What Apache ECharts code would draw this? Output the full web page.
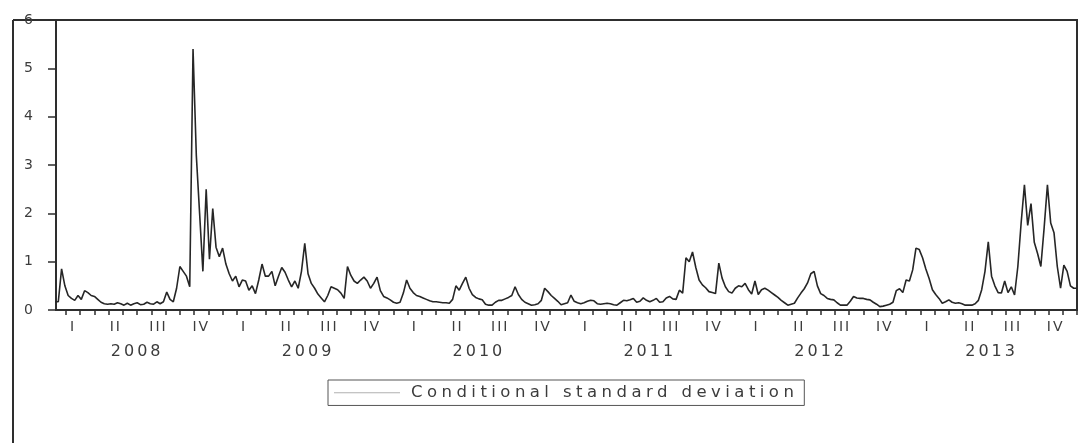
<!DOCTYPE html>
<html>
<head>
<meta charset="utf-8">
<script src="https://cdn.jsdelivr.net/npm/echarts@6/dist/echarts.min.js"></script>
<style>
html,body{margin:0;padding:0;background:#fff;}
#chart{width:1080px;height:443px;}
</style>
</head>
<body>
<div id="chart"></div>
<script>
// ---- data (weekly readings, week-ending dates) ----
const years = ['2008', '2009', '2010', '2011', '2012', '2013'];
const quarters = ['I', 'II', 'III', 'IV'];
const seriesName = 'Conditional standard deviation';

const vol2008 = [0.17,0.17,0.85,0.5,0.3,0.24,0.2,0.3,0.22,0.4, 0.36,0.3,0.28,0.22,0.16,0.13,0.12,0.13,0.12,0.15, 0.13,0.1,0.14,0.1,0.13,0.15,0.11,0.12,0.16,0.13, 0.12,0.17,0.13,0.17,0.37,0.22,0.17,0.45,0.9,0.8, 0.7,0.48,5.4,3.2,2.0,0.8,2.5,1.05,2.1,1.3, 1.1,1.28];
const vol2009 = [0.95,0.75,0.6,0.7,0.48,0.62,0.6,0.41,0.5,0.34, 0.62,0.95,0.7,0.7,0.8,0.5,0.7,0.88,0.78,0.62, 0.48,0.6,0.45,0.8,1.38,0.75,0.55,0.45,0.33,0.25, 0.17,0.3,0.48,0.45,0.42,0.35,0.24,0.9,0.72,0.6, 0.55,0.62,0.68,0.6,0.45,0.55,0.68,0.4,0.28,0.25, 0.21,0.16];
const vol2010 = [0.14,0.16,0.35,0.62,0.45,0.36,0.3,0.28,0.25,0.22, 0.19,0.17,0.17,0.16,0.15,0.15,0.14,0.22,0.5,0.41, 0.55,0.68,0.45,0.32,0.26,0.23,0.21,0.12,0.1,0.1, 0.16,0.2,0.2,0.23,0.26,0.3,0.48,0.32,0.22,0.16, 0.13,0.1,0.11,0.13,0.2,0.45,0.38,0.3,0.24,0.18, 0.11,0.13];
const vol2011 = [0.15,0.31,0.18,0.15,0.13,0.15,0.18,0.2,0.19,0.13, 0.12,0.13,0.14,0.13,0.11,0.1,0.15,0.2,0.19,0.21, 0.24,0.16,0.18,0.25,0.2,0.17,0.2,0.24,0.16,0.17, 0.25,0.28,0.23,0.22,0.41,0.35,1.08,1.0,1.2,0.88, 0.62,0.52,0.46,0.38,0.36,0.34,0.97,0.66,0.48,0.38, 0.35,0.45];
const vol2012 = [0.5,0.48,0.55,0.42,0.33,0.6,0.32,0.42,0.45,0.41, 0.36,0.31,0.26,0.2,0.15,0.1,0.12,0.14,0.25,0.35, 0.44,0.56,0.75,0.8,0.5,0.34,0.3,0.24,0.22,0.21, 0.15,0.1,0.1,0.1,0.18,0.28,0.25,0.24,0.24,0.22, 0.21,0.16,0.12,0.07,0.08,0.1,0.12,0.16,0.4,0.44, 0.36,0.62];
const vol2013 = [0.6,0.83,1.28,1.25,1.08,0.85,0.65,0.42,0.32,0.24, 0.14,0.17,0.21,0.16,0.14,0.15,0.13,0.1,0.1,0.1, 0.13,0.2,0.42,0.8,1.41,0.7,0.5,0.36,0.35,0.6, 0.36,0.48,0.31,0.9,1.8,2.59,1.75,2.2,1.4,1.17, 0.9,1.7,2.59,1.8,1.6,0.9,0.45,0.93,0.8,0.5, 0.45,0.45];

// ---- wide, letter-spaced lettering like the scanned original (keyed by font size) ----
const SPACING_BY_SIZE = { '14': '2px', '16': '3px', '16.5': '4.45px' };
(function () {
  const proto = window.CanvasRenderingContext2D && CanvasRenderingContext2D.prototype;
  if (!proto || !('letterSpacing' in proto)) return;
  const desc = Object.getOwnPropertyDescriptor(proto, 'font');
  if (!desc || !desc.set) return;
  Object.defineProperty(proto, 'font', {
    configurable: true,
    get() { return desc.get.call(this); },
    set(v) {
      desc.set.call(this, v);
      const m = /(\d+(?:\.\d+)?)px/.exec(String(v));
      this.letterSpacing = (m && SPACING_BY_SIZE[String(+m[1])]) || '0px';
    }
  });
})();

// ---- build library inputs ----
const volByYear = [vol2008, vol2009, vol2010, vol2011, vol2012, vol2013];
const seriesData = [];
volByYear.forEach((arr, yi) => {
  arr.forEach((v, k) => { seriesData.push([yi * 12 + (k + 1) * 12 / 52, v]); });
});
const monthTicks = [];
for (let m = 1; m <= years.length * 12; m++) monthTicks.push(m);
const quarterMids = [];
years.forEach((y, yi) => quarters.forEach((q, qi) => quarterMids.push(yi * 12 + qi * 3 + 1.5)));
const yearMids = years.map((y, yi) => yi * 12 + 6);

const FONT = 'DejaVu Sans';
const TXT = '#3c3c3c';
const INK = '#2e2e2e';

const chart = echarts.init(document.getElementById('chart'), null, { renderer: 'canvas' });
chart.setOption({
  animation: false,
  backgroundColor: '#ffffff',
  grid: { left: 56, right: 3, top: 20, bottom: 133, show: true, borderColor: INK, borderWidth: 2 },
  graphic: [
    { type: 'line', shape: { x1: 13, y1: 20, x2: 13, y2: 443 }, style: { stroke: INK, lineWidth: 2 } },
    { type: 'line', shape: { x1: 13, y1: 20, x2: 57, y2: 20 }, style: { stroke: INK, lineWidth: 2 } }
  ],
  legend: {
    data: [seriesName],
    left: 328, top: 380,
    padding: [2, 6, 2, 6],
    borderColor: '#555', borderWidth: 1, borderRadius: 0,
    icon: 'rect',
    itemWidth: 66, itemHeight: 1, itemGap: 0,
    itemStyle: { color: '#b0b0b0' },
    textStyle: { fontFamily: FONT, fontSize: 16.5, color: TXT, lineHeight: 18, padding: [0, 0, 0, 6] }
  },
  xAxis: [
    {
      type: 'value', min: 0.3, max: 72, position: 'bottom',
      axisLine: { show: true, lineStyle: { color: INK, width: 2 } },
      axisTick: { show: true, customValues: monthTicks, length: 5, lineStyle: { color: INK, width: 1.5 } },
      axisLabel: {
        customValues: quarterMids, margin: 9, fontFamily: FONT, fontSize: 14, color: TXT,
        formatter: v => quarters[Math.round((v - 1.5) / 3) % 4]
      },
      splitLine: { show: false }
    },
    {
      type: 'value', min: 0.3, max: 72, position: 'bottom',
      axisLine: { show: false }, axisTick: { show: false },
      axisLabel: {
        customValues: yearMids, margin: 32, fontFamily: FONT, fontSize: 16, color: TXT,
        formatter: v => years[Math.round((v - 6) / 12)]
      },
      splitLine: { show: false }
    }
  ],
  yAxis: {
    type: 'value', min: 0, max: 6, interval: 1,
    axisLine: { show: true, lineStyle: { color: INK, width: 2 } },
    axisTick: { show: true, length: 8, lineStyle: { color: INK, width: 1.5 } },
    axisLabel: { margin: 21, fontFamily: FONT, fontSize: 14, color: TXT },
    splitLine: { show: false }
  },
  series: [{
    name: seriesName, type: 'line', data: seriesData,
    symbol: 'none', showSymbol: false, color: '#262626',
    lineStyle: { color: '#262626', width: 1.6 }
  }]
});
</script>
</body>
</html>
